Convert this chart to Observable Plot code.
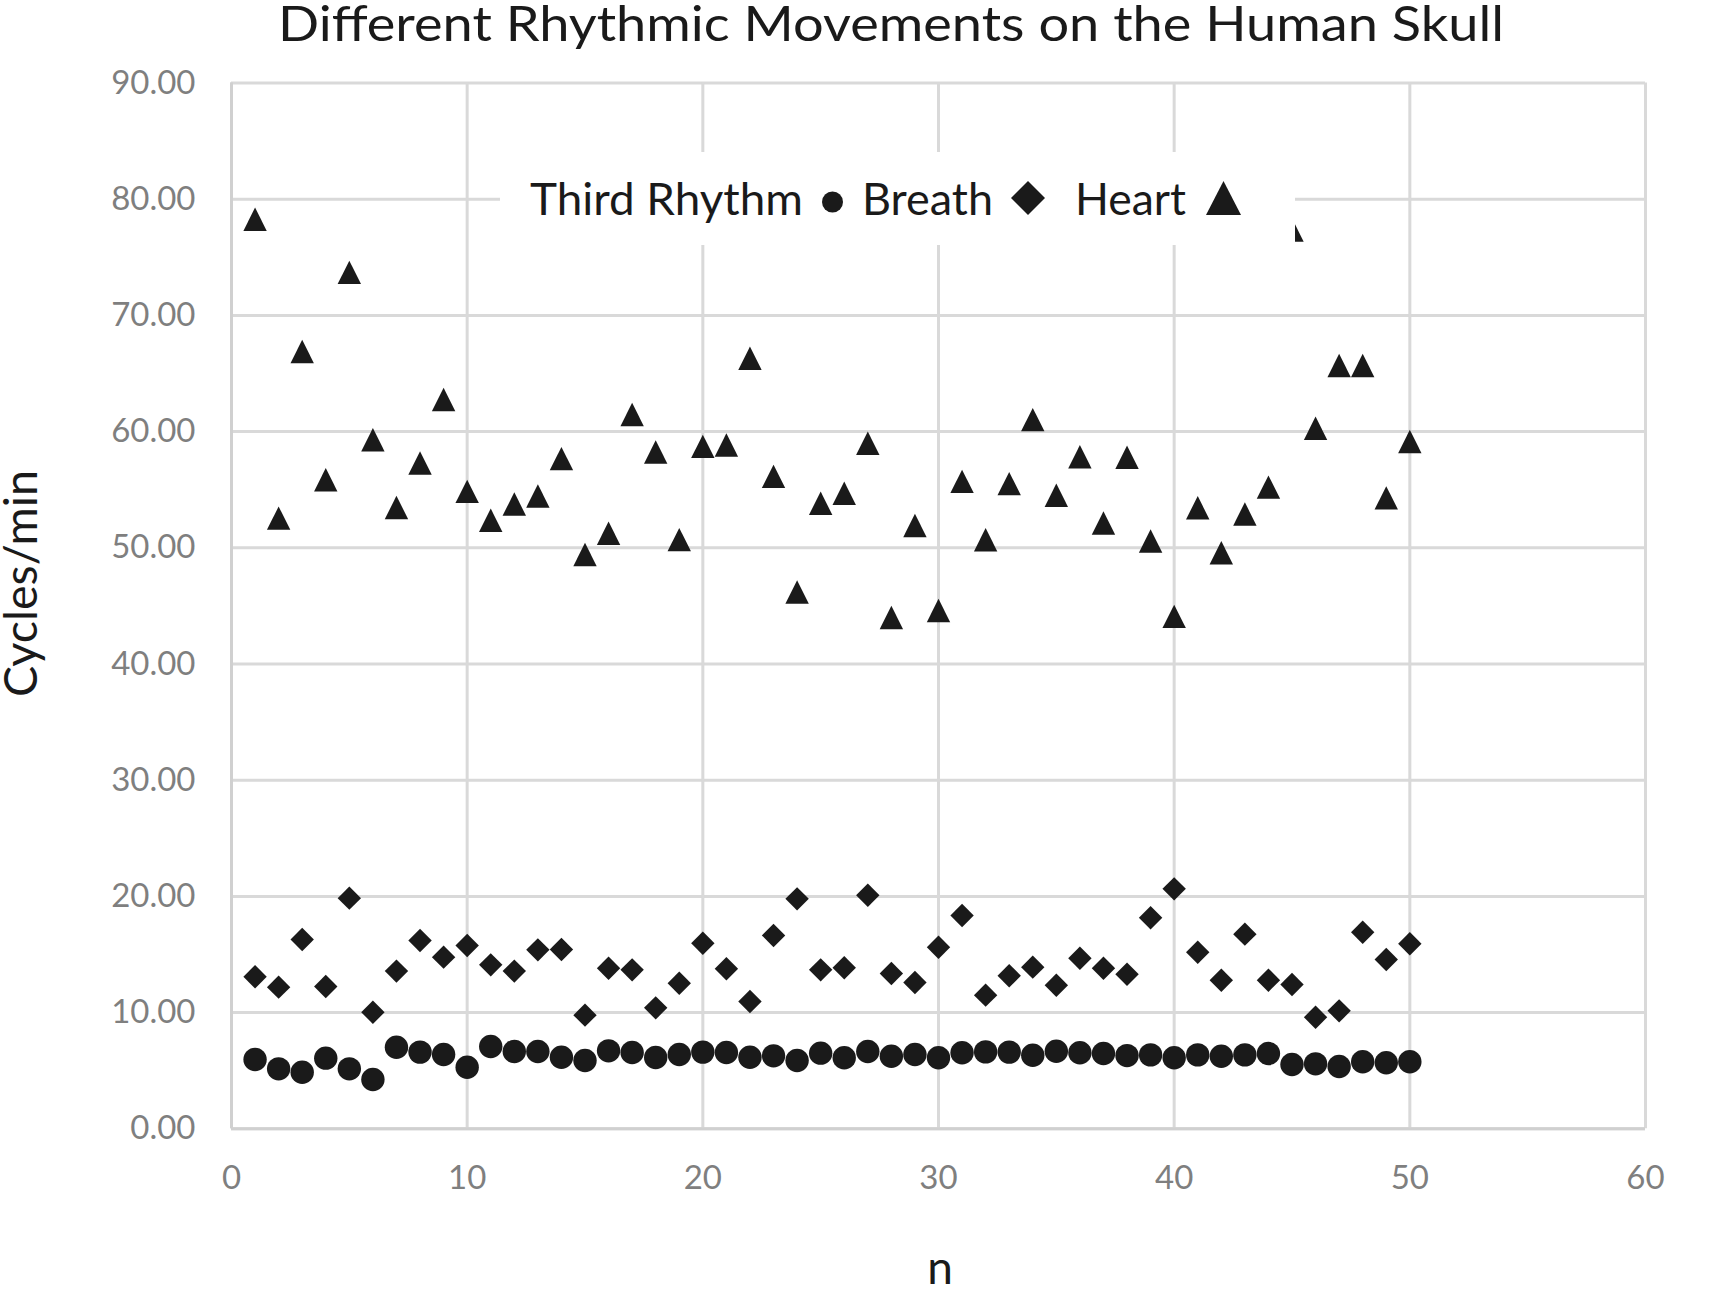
<!DOCTYPE html>
<html>
<head>
<meta charset="utf-8">
<script src="https://cdn.jsdelivr.net/npm/d3@7"></script>
<script src="https://cdn.jsdelivr.net/npm/@observablehq/plot@0.6"></script>
<style>
  html, body { margin: 0; padding: 0; background: #fff; }
  #chart { position: relative; width: 1712px; height: 1289px; overflow: hidden; }
</style>
</head>
<body>
<div id="chart"></div>
<script>
// ---- data ----
const n = [1,2,3,4,5,6,7,8,9,10,11,12,13,14,15,16,17,18,19,20,21,22,23,24,25,26,27,28,29,30,31,32,33,34,35,36,37,38,39,40,41,42,43,44,45,46,47,48,49,50];

const thirdRhythm = [5.96,5.16,4.87,6.08,5.16,4.24,7.02,6.60,6.39,5.30,
  7.08,6.65,6.65,6.16,5.88,6.71,6.57,6.13,6.39,6.60,
  6.57,6.16,6.28,5.88,6.51,6.11,6.65,6.25,6.39,6.11,
  6.54,6.62,6.60,6.33,6.68,6.54,6.48,6.30,6.36,6.11,
  6.36,6.25,6.36,6.48,5.54,5.59,5.36,5.77,5.68,5.77];

const breath = [13.08,12.19,16.29,12.25,19.85,10.03,13.57,16.20,14.77,15.77,
  14.11,13.57,15.40,15.43,9.78,13.82,13.68,10.41,12.53,15.97,
  13.77,10.96,16.64,19.79,13.68,13.86,20.10,13.37,12.59,15.63,
  18.36,11.50,13.17,13.91,12.36,14.68,13.82,13.30,18.16,20.65,
  15.20,12.79,16.75,12.79,12.42,9.60,10.15,16.92,14.57,15.92];

const heart = [78.28,52.55,66.89,55.85,73.70,59.30,53.47,57.30,62.76,54.86,
  52.37,53.77,54.46,57.67,49.42,51.25,61.47,58.25,50.70,58.73,
  58.85,66.31,56.15,46.20,53.83,54.69,59.00,44.00,51.92,44.60,
  55.72,50.69,55.52,61.03,54.52,57.83,52.13,57.79,50.58,44.10,
  53.45,49.58,52.91,55.22,77.35,60.29,65.69,65.69,54.30,59.15];

const xTicks = [0,10,20,30,40,50,60];
const yTicks = [0,10,20,30,40,50,60,70,80,90];

const title = "Different Rhythmic Movements on the Human Skull";
const xLabel = "n";
const yLabel = "Cycles/min";
const legendLabels = ["Third Rhythm", "Breath", "Heart"];

// ---- custom Excel-like marker shapes ----
const diamondSym = { draw(ctx, size) { const r = Math.sqrt(size / Math.PI);
  ctx.moveTo(0, -r); ctx.lineTo(r, 0); ctx.lineTo(0, r); ctx.lineTo(-r, 0); ctx.closePath(); } };
const triangleSym = { draw(ctx, size) { const r = Math.sqrt(size / Math.PI);
  ctx.moveTo(0, -r); ctx.lineTo(r, r); ctx.lineTo(-r, r); ctx.closePath(); } };

const rows = (vals) => n.map((x, i) => ({x, y: vals[i]}));

const markFill = "#1a1a1a";
const gridColor = "#d9d9d9";
const tickColor = "#7f7f7f";
const font = "Lato, 'Open Sans', sans-serif";

const plot = Plot.plot({
  width: 1712,
  height: 1289,
  marginLeft: 231,
  marginRight: 67,
  marginTop: 82.5,
  marginBottom: 160.7,
  style: { background: "#fff", fontFamily: font, fontSize: "33px", overflow: "visible" },
  x: { domain: [0, 60] },
  y: { domain: [0, 90] },
  marks: [
    Plot.gridY(yTicks, { stroke: gridColor, strokeOpacity: 1, strokeWidth: 3 }),
    Plot.gridX(xTicks, { stroke: gridColor, strokeOpacity: 1, strokeWidth: 3 }),
    Plot.ruleY([0], { stroke: "#d0d0d0", strokeWidth: 3 }),
    Plot.ruleX([0], { stroke: "#d0d0d0", strokeWidth: 3 }),
    Plot.axisY(yTicks, { tickSize: 0, tickPadding: 36, tickFormat: d3.format(".2f"),
      label: null, fontSize: 33, color: tickColor }),
    Plot.axisX(xTicks, { tickSize: 0, tickPadding: 37, tickFormat: d3.format("d"),
      label: null, fontSize: 33, color: tickColor }),
    Plot.dot(rows(thirdRhythm), { x: "x", y: "y", r: 11.7, symbol: "circle", fill: markFill, stroke: null }),
    Plot.dot(rows(breath), { x: "x", y: "y", r: 11.7, symbol: diamondSym, fill: markFill, stroke: null }),
    Plot.dot(rows(heart), { x: "x", y: "y", r: 11.7, symbol: triangleSym, fill: markFill, stroke: null })
  ]
});

document.getElementById("chart").appendChild(plot);

// ---- title, axis titles and legend added on top of the Plot SVG ----
const svg = d3.select(plot);
const textColor = "#1a1a1a";
const extra = svg.append("g").attr("text-anchor", "start");

extra.append("text")
  .attr("x", 278).attr("y", 41).attr("text-anchor", "start")
  .attr("textLength", 1226).attr("lengthAdjust", "spacingAndGlyphs")
  .style("font-family", font).style("font-size", "48px").attr("fill", textColor)
  .text(title);

extra.append("text")
  .attr("transform", "translate(37,697) rotate(-90)").attr("text-anchor", "start")
  .attr("textLength", 227).attr("lengthAdjust", "spacingAndGlyphs")
  .style("font-family", font).style("font-size", "46px").attr("fill", textColor)
  .text(yLabel);

extra.append("text")
  .attr("x", 940).attr("y", 1284).attr("text-anchor", "middle")
  .style("font-family", font).style("font-size", "46px").attr("fill", textColor)
  .text(xLabel);

// legend box (white, covers grid and markers underneath)
const lg = extra.append("g");
lg.append("rect").attr("x", 500).attr("y", 152).attr("width", 795).attr("height", 93).attr("fill", "#fff");

const legendText = [
  { x: 530, w: 273 },
  { x: 862, w: 131 },
  { x: 1075, w: 111 }
];
legendLabels.forEach((lab, i) => {
  lg.append("text")
    .attr("x", legendText[i].x).attr("y", 215).attr("text-anchor", "start")
    .attr("textLength", legendText[i].w).attr("lengthAdjust", "spacingAndGlyphs")
    .style("font-family", font).style("font-size", "44px").attr("fill", textColor)
    .text(lab);
});
lg.append("circle").attr("cx", 832.5).attr("cy", 202).attr("r", 10.5).attr("fill", markFill);
lg.append("path").attr("d", "M1028,181L1045,198L1028,215L1011,198Z").attr("fill", markFill);
lg.append("path").attr("d", "M1223.5,181L1241,215L1206,215Z").attr("fill", markFill);
</script>
</body>
</html>
